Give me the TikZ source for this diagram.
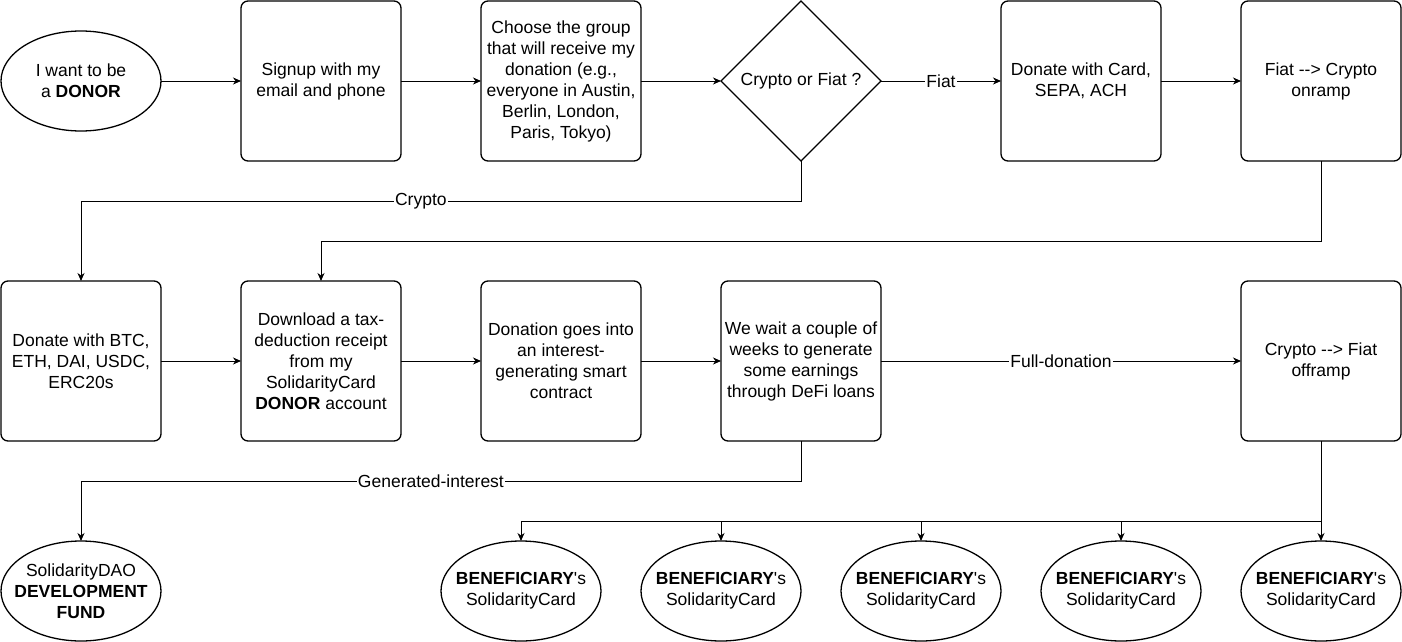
\documentclass[tikz,border=0pt]{standalone}
\usepackage{fontspec}
\setmainfont{Liberation Sans}
\usetikzlibrary{shapes.geometric,arrows.meta,positioning}
\tikzset{
    block/.style={
        rectangle, rounded corners=7pt,
        minimum width=160pt, minimum height=160pt,
        align=center, inner sep=2pt, outer sep=0pt,
        draw=black, line width=1.3pt
    },
    terminal/.style={
        ellipse,
        minimum width=160pt, minimum height=100pt,
        align=center, inner xsep=-14pt, inner ysep=0pt, outer sep=0pt,
        draw=black, line width=1.3pt
    },
    decision/.style={
        diamond,
        minimum width=160pt, minimum height=160pt,
        align=center, inner sep=-8pt, outer sep=0pt,
        draw=black, line width=1.3pt
    },
    descr/.style={
        fill=white,
        inner sep=1pt
    },
    connector/.style={
        line width=1pt,
        -{Stealth[length=8pt,width=7pt,inset=2.5pt]}
    }
}
\newcommand{\benefText}{\textbf{BENEFICIARY}\textquotesingle s\\ SolidarityCard}

\begin{document}
\begin{tikzpicture}[font=\fontsize{17.5}{21}\selectfont]
    \useasboundingbox (0,0) rectangle (1402pt,-642pt);
    % first row
    \node[terminal] (donor) at (81pt,-81pt) {I want to be\\ a \textbf{DONOR}};
    \node[block, right=80pt of donor] (signup) {Signup with my\\ email and phone};
    \node[block, right=80pt of signup] (group) {Choose the group\\ that will receive my\\ donation (e.g.,\\ everyone in Austin,\\ Berlin, London,\\ Paris, Tokyo)};
    \node[decision, right=80pt of group] (choice) {Crypto or Fiat ?};
    \node[block, right=120pt of choice] (card) {Donate with Card,\\ SEPA, ACH};
    \node[block, right=80pt of card] (onramp) {Fiat -{}-{}> Crypto\\ onramp};
    % second row
    \node[block] (crypto) at (81pt,-361pt) {Donate with BTC,\\ ETH, DAI, USDC,\\ ERC20s};
    \node[block, right=80pt of crypto] (receipt) {Download a tax-\\ deduction receipt\\ from my\\ SolidarityCard\\ \textbf{DONOR} account};
    \node[block, right=80pt of receipt] (contract) {Donation goes into\\ an interest-\\ generating smart\\ contract};
    \node[block, right=80pt of contract] (wait) {We wait a couple of\\ weeks to generate\\ some earnings\\ through DeFi loans};
    \node[block, right=360pt of wait] (offramp) {Crypto -{}-{}> Fiat\\ offramp};
    % third row
    \node[terminal] (fund) at (81pt,-591pt) {SolidarityDAO\\ \textbf{DEVELOPMENT}\\ \textbf{FUND}};
    \node[terminal, right=280pt of fund] (ben1) {\benefText};
    \node[terminal, right=40pt of ben1] (ben2) {\benefText};
    \node[terminal, right=40pt of ben2] (ben3) {\benefText};
    \node[terminal, right=40pt of ben3] (ben4) {\benefText};
    \node[terminal, right=40pt of ben4] (ben5) {\benefText};

    % connectors
    \draw[connector] (donor) -- (signup);
    \draw[connector] (signup) -- (group);
    \draw[connector] (group) -- (choice);
    \draw[connector] (choice) -- node[descr] {Fiat} (card);
    \draw[connector] (card) -- (onramp);
    \draw[connector] (choice.south) -- ++(0,-40pt) -| node[descr, pos=0.264] {Crypto} (crypto.north);
    \draw[connector] (onramp.south) -- ++(0,-80pt) -| (receipt.north);
    \draw[connector] (crypto) -- (receipt);
    \draw[connector] (receipt) -- (contract);
    \draw[connector] (contract) -- (wait);
    \draw[connector] (wait) -- node[descr] {Full-donation} (offramp);
    \draw[connector] (wait.south) -- ++(0,-40pt) -| node[descr, pos=0.257] {Generated-interest} (fund.north);
    \foreach \b in {ben1,ben2,ben3,ben4,ben5}
        \draw[connector] (offramp.south) -- ++(0,-80pt) -| (\b.north);
\end{tikzpicture}
\end{document}
